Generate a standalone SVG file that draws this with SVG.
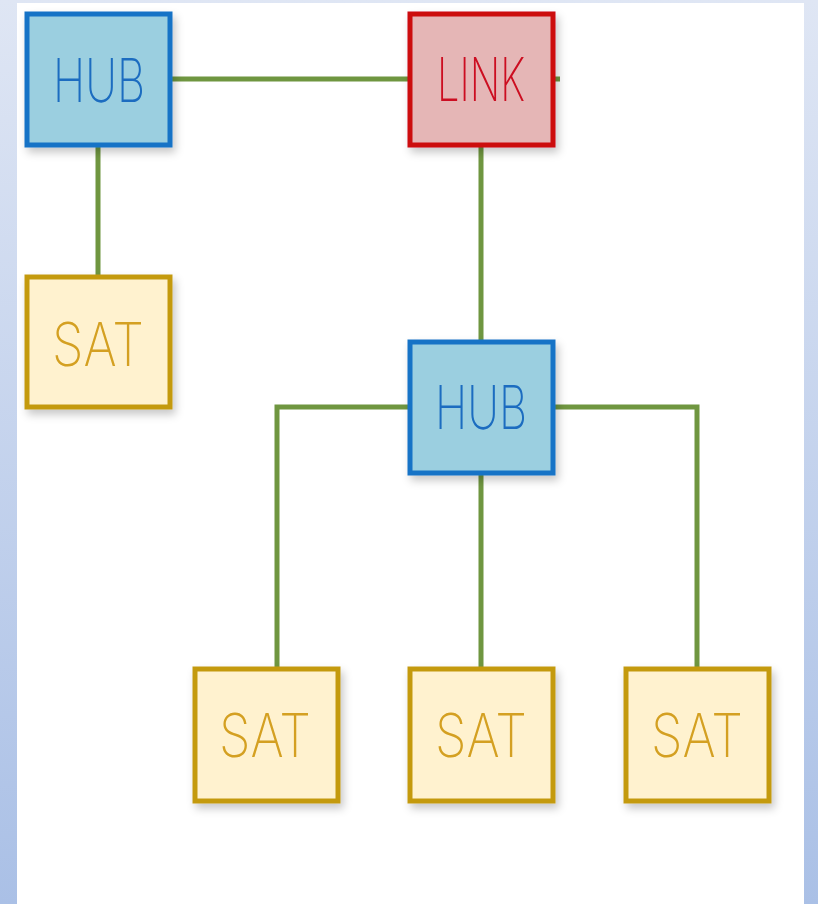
<svg xmlns="http://www.w3.org/2000/svg" width="818" height="904" viewBox="0 0 818 904">
<defs>
<linearGradient id="bg" x1="0" y1="0" x2="0" y2="1">
<stop offset="0" stop-color="#dfe6f4"/>
<stop offset="1" stop-color="#aac0e6"/>
</linearGradient>
<filter id="sh" x="-20%" y="-20%" width="140%" height="140%">
<feGaussianBlur in="SourceAlpha" stdDeviation="4"/>
<feOffset dx="3" dy="5" result="b"/>
<feFlood flood-color="#000" flood-opacity="0.22"/>
<feComposite in2="b" operator="in"/>
<feMerge><feMergeNode/><feMergeNode in="SourceGraphic"/></feMerge>
</filter>
</defs>
<style>
.hub{fill:#9bcfe0;stroke:#1673c6;stroke-width:5}
.link{fill:#e5b6b6;stroke:#cc0a10;stroke-width:5}
.sat{fill:#fff2cf;stroke:#c49a10;stroke-width:5}
.lbl{font-family:Inter,"Liberation Sans","DejaVu Sans",sans-serif;font-size:60px;text-anchor:middle;font-weight:200}
.hubt{fill:#1a6cc0}
.linkt{fill:#cc1020}
.satt{fill:#d4a020}
.con{fill:none;stroke:#6f9640;stroke-width:5}
</style>
<rect x="0" y="0" width="818" height="904" fill="url(#bg)"/>
<rect x="17" y="3" width="787" height="901" fill="#ffffff"/>
<g id="connectors">
<line class="con" x1="171" y1="79" x2="409" y2="79"/>
<line class="con" x1="554" y1="79" x2="560" y2="79"/>
<line class="con" x1="98" y1="146" x2="98" y2="276"/>
<line class="con" x1="481" y1="146" x2="481" y2="341"/>
<polyline class="con" points="409,407 277,407 277,668"/>
<line class="con" x1="481" y1="474" x2="481" y2="668"/>
<polyline class="con" points="554,407 697,407 697,668"/>
</g>
<g id="hub1" filter="url(#sh)">
<rect class="hub" x="27" y="14" width="143" height="131"/>
<text class="lbl hubt" x="99" y="102" textLength="92" lengthAdjust="spacingAndGlyphs">HUB</text>
</g>
<g id="link" filter="url(#sh)">
<rect class="link" x="410" y="14" width="143" height="131"/>
<text class="lbl linkt" x="481" y="101" textLength="88" lengthAdjust="spacingAndGlyphs">LINK</text>
</g>
<g id="sat1" filter="url(#sh)">
<rect class="sat" x="27" y="277" width="143" height="130"/>
<text class="lbl satt" x="98" y="366" textLength="92" lengthAdjust="spacingAndGlyphs">SAT</text>
</g>
<g id="hub2" filter="url(#sh)">
<rect class="hub" x="410" y="342" width="143" height="131"/>
<text class="lbl hubt" x="481" y="429" textLength="92" lengthAdjust="spacingAndGlyphs">HUB</text>
</g>
<g id="sat2" filter="url(#sh)">
<rect class="sat" x="195" y="669" width="143" height="132"/>
<text class="lbl satt" x="265" y="757" textLength="92" lengthAdjust="spacingAndGlyphs">SAT</text>
</g>
<g id="sat3" filter="url(#sh)">
<rect class="sat" x="410" y="669" width="143" height="132"/>
<text class="lbl satt" x="481" y="757" textLength="92" lengthAdjust="spacingAndGlyphs">SAT</text>
</g>
<g id="sat4" filter="url(#sh)">
<rect class="sat" x="626" y="669" width="143" height="132"/>
<text class="lbl satt" x="697" y="757" textLength="92" lengthAdjust="spacingAndGlyphs">SAT</text>
</g>
</svg>
